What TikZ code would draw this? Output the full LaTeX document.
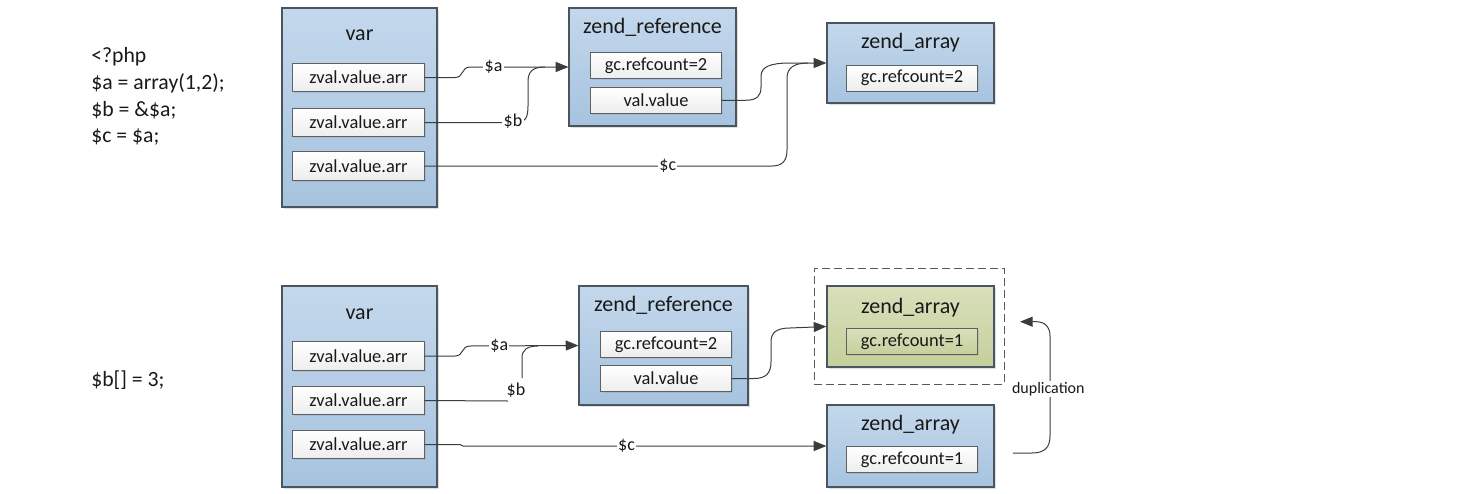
\documentclass[tikz,border=0pt]{standalone}
\usepackage{fontspec}
\setmainfont{Carlito}
\usetikzlibrary{fit,shadows,arrows.meta}
\definecolor{bluetop}{HTML}{C4D8EC}
\definecolor{bluebot}{HTML}{A6C3DF}
\definecolor{greentop}{HTML}{D9E0BA}
\definecolor{greenbot}{HTML}{C5CF9C}
\definecolor{bord}{HTML}{4A5560}
\definecolor{inbord}{HTML}{606060}
\definecolor{wire}{HTML}{3C3C3C}
\begin{document}
\begin{tikzpicture}[x=0.75pt,y=-0.75pt,
 obox/.style={draw=bord,line width=0.9pt,top color=bluetop,bottom color=bluebot,inner sep=0pt,
   drop shadow={shadow xshift=1.5pt,shadow yshift=-1.5pt,opacity=0.25}},
 greenbox/.style={obox,top color=greentop,bottom color=greenbot},
 dashbox/.style={draw=black!65,line width=0.75pt,dash pattern=on 6pt off 3pt,inner sep=0pt},
 title/.style={anchor=base,font=\fontsize{16.5}{19}\selectfont,text=black!90},
 field/.style={draw=inbord,line width=0.7pt,top color=white,bottom color=black!7,
   minimum width=98.5pt,minimum height=19.5pt,inner sep=0pt,text=black!90,
   font=\fontsize{13.8}{16}\selectfont,
   drop shadow={shadow xshift=1pt,shadow yshift=-1pt,opacity=0.2}},
 varfield/.style={field,minimum height=21.3pt},
 greenfield/.style={field,top color=greentop,bottom color=greenbot},
 codeline/.style={anchor=base west,font=\fontsize{16.3}{20}\selectfont,text=black!90,inner sep=0pt},
 lbl/.style={fill=white,inner sep=1pt,font=\fontsize{13.5}{16}\selectfont,text=black!90},
 smalllbl/.style={lbl,font=\fontsize{12}{14}\selectfont},
 conn/.style={draw=wire,line width=0.75pt},
 arrowconn/.style={conn,-{Triangle[length=9.5pt,width=7.5pt]}}
]
\useasboundingbox (0,0) rectangle (1463,493);

% ---------- code ----------
\node[codeline] (c1) at (91,62.7) {<?php};
\node[codeline] (c2) at (91,89.5) {\$a = array(1,2);};
\node[codeline] (c3) at (91,116) {\$b = \&\$a;};
\node[codeline] (c4) at (91,142.7) {\$c = \$a;};
\node[codeline] (c5) at (91,386) {\$b[] = 3;};

% ---------- top diagram ----------
\node[obox,fit={(282,8) (437,207)}] (var) {};
\node[title] (vart) at (359.5,40.7) {var};
\node[varfield] (vi1) at (358.5,77.5) {zval.value.arr};
\node[varfield] (vi2) at (358.5,122.5) {zval.value.arr};
\node[varfield] (vi3) at (358.5,166) {zval.value.arr};

\node[obox,fit={(569,8) (736,126)}] (ref) {};
\node[title] (reft) at (652.5,33.5) {zend\_reference};
\node[field] (ri1) at (656,65.3) {gc.refcount=2};
\node[field] (ri2) at (656,100.3) {val.value};

\node[obox,fit={(827,23) (994,103)}] (arr) {};
\node[title] (arrt) at (910.5,48.3) {zend\_array};
\node[field] (ai) at (912,78) {gc.refcount=2};

% top connectors
\draw[arrowconn] (vi1.east) -- (455,77.5) .. controls (464,77.5) and (461,67) .. (470,67)
   -- node[lbl,pos=0.24] (la) {\$a} (ref.west);
\draw[conn] (vi2.east) -- (518,122.5) .. controls (526,122.5) and (528,116) .. (528,106)
   -- (528,82) .. controls (528,72) and (532,67) .. (545,67);
\node[lbl] (lb) at (513,121) {\$b};
\draw[arrowconn] (ri2.east) -- (745,100.3) .. controls (757,100.3) and (761,96) .. (761,87)
   -- (761,76) .. controls (761,67) and (770,63) .. (790,63) -- (arr.west);
\draw[conn] (vi3.east) -- node[lbl,pos=0.7] (lc) {\$c} (772,166)
   .. controls (783,166) and (787,160) .. (787,150) -- (787,78)
   .. controls (787,68) and (794,63) .. (808,63);

% ---------- bottom diagram ----------
\node[obox,fit={(282,286) (437,487)}] (var2) {};
\node[title] (var2t) at (359.5,319.3) {var};
\node[varfield] (vj1) at (358.5,356) {zval.value.arr};
\node[varfield] (vj2) at (358.5,400.5) {zval.value.arr};
\node[varfield] (vj3) at (358.5,444.5) {zval.value.arr};

\node[obox,fit={(579,286) (748,405)}] (ref2) {};
\node[title] (ref2t) at (663.5,311.7) {zend\_reference};
\node[field] (rj1) at (666,344.3) {gc.refcount=2};
\node[field] (rj2) at (666,378.5) {val.value};

\node[dashbox,fit={(814,268) (1004,384)}] (dash) {};
\node[greenbox,fit={(827,286) (994,367)}] (garr) {};
\node[title] (garrt) at (910.5,313.3) {zend\_array};
\node[greenfield] (gi) at (912,341.7) {gc.refcount=1};

\node[obox,fit={(827,405) (994,487)}] (arr2) {};
\node[title] (arr2t) at (910.5,430) {zend\_array};
\node[field] (bi) at (912,459.5) {gc.refcount=1};

% bottom connectors
\draw[arrowconn] (vj1.east) -- (455,356) .. controls (464,356) and (461,346) .. (470,346)
   -- node[lbl,pos=0.27] (la2) {\$a} (ref2.west);
\draw[conn] (vj2.east) -- (508,401) (522,378) -- (522,358)
   .. controls (522,350) and (527,346) .. (538,346);
\node[lbl] (lb2) at (516,390.5) {\$b};
\draw[arrowconn] (rj2.east) -- (754,378.5) .. controls (766,378.5) and (771,373) .. (771,362)
   -- (771,342) .. controls (771,333) and (776,328) .. (790,328) -- (garr.west);
\draw[arrowconn] (vj3.east) -- (460,444.5) -- (463,446)
   -- node[lbl,pos=0.45] (lc2) {\$c} (arr2.west);

\coordinate (dupS) at (1013,453);
\coordinate (dupE) at (1020,321.7);
\draw[arrowconn] (dupS) -- (1032,453) .. controls (1045,453) and (1050,447) .. (1050,436)
   -- (1050,336) .. controls (1050,327) and (1045,321.7) .. (1036,321.7) -- (dupE);
\node[smalllbl] (dup) at (1048.3,389.3) {duplication};
\end{tikzpicture}
\end{document}
